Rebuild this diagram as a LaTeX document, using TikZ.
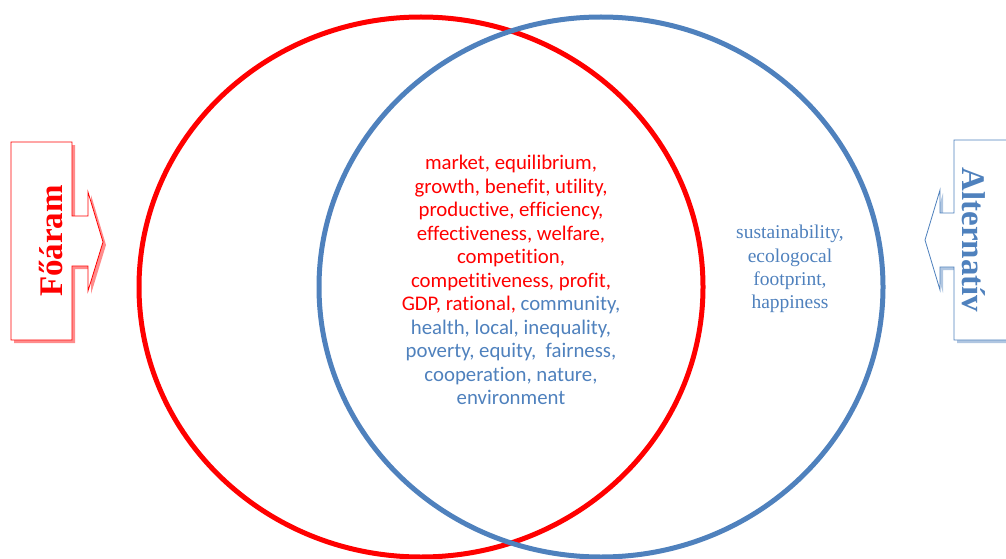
\documentclass[tikz,border=0pt]{standalone}
\usepackage{fontspec}
\setmainfont{Liberation Serif}
\newfontfamily\calibri[RawFeature=-liga]{Carlito}
\usetikzlibrary{shapes.geometric,shadows}
\definecolor{mainred}{RGB}{255,0,0}
\definecolor{altblue}{RGB}{79,129,189}
\tikzset{
every node/.style={inner sep=0pt},
set/.style={ellipse, draw, line width=5pt, minimum width=564pt, minimum height=540pt},
callout/.style={draw=#1, line width=0.8pt, fill=white,
  drop shadow={shadow xshift=3pt, shadow yshift=-3pt, fill=#1!45, opacity=1}},
tag/.style={font=\bfseries\fontsize{33}{36}\selectfont, text=#1},
words/.style={align=center, font=\calibri\fontsize{20.8}{23.5}\selectfont, text=mainred},
}

\begin{document}
\begin{tikzpicture}[x=1pt, y=-1pt]
        \clip (0,0) rectangle (1006,559);
        \node[set, draw=mainred] (main) at (421,287) {};
        \node[set, draw=altblue] (alt) at (601,287) {};

        % arrows at the sides
        \draw[callout=mainred] (11,142) -- (72,142) -- (72,216) -- (88,216) -- (88,192) -- (103,242)
            -- (88,291) -- (88,266) -- (72,266) -- (72,340) -- (11,340) -- cycle;
        \draw[callout=altblue] (954,140) -- (1030,140) -- (1030,340) -- (954,340) -- (954,267) -- (940,267)
            -- (940,290) -- (925,240) -- (940,190) -- (940,213) -- (954,213) -- cycle;
        \node[tag=mainred, rotate=90] (foaram) at (51,241) {Főáram};
        \node[tag=altblue, rotate=-90] (alternativ) at (974,240) {Alternatív};

        \node[words] (common) at (511,280) {market, equilibrium,\\ growth, benefit, utility,\\
            productive, efficiency,\\ effectiveness, welfare,\\ competition,\\
            competitiveness, profit,\\ GDP, rational, \textcolor{altblue}{community,}\\
            \textcolor{altblue}{health, local, inequality,}\\ \textcolor{altblue}{poverty, equity,\ \ fairness,}\\
            \textcolor{altblue}{cooperation, nature,}\\ \textcolor{altblue}{environment}};
        \node[align=center, text=altblue, font=\fontsize{19.5}{23.3}\selectfont] (own) at (790,269)
            {sustainability,\\ ecologocal\\ footprint,\\ happiness};
    \end{tikzpicture}
\end{document}
